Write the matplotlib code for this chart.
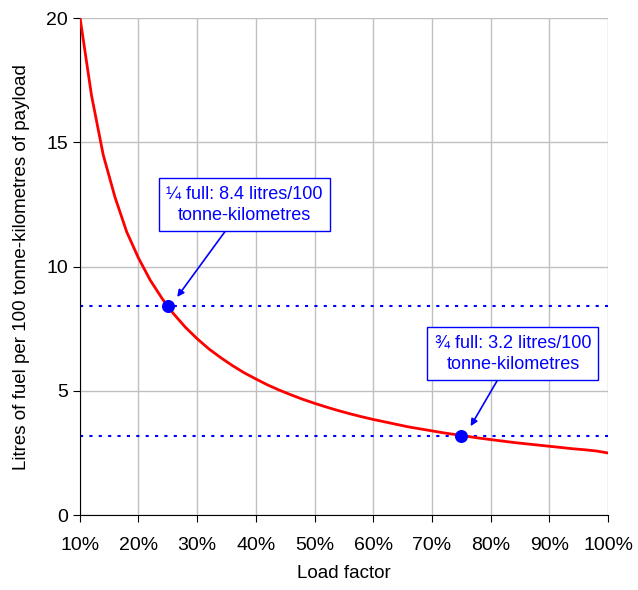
import matplotlib
matplotlib.use("Agg")
import matplotlib.pyplot as plt
from matplotlib.ticker import PercentFormatter

plt.rcParams['font.family'] = ['Liberation Sans', 'DejaVu Sans']

# load factor (%) and litres of fuel per 100 tonne-km
load = [10, 12, 14, 16, 18, 20, 22, 24, 25, 26, 28, 30, 32, 34, 36, 38, 40,
        42, 44, 46, 48, 50, 52, 54, 56, 58, 60, 62, 64, 66, 68, 70, 72, 74,
        75, 76, 78, 80, 82, 84, 86, 88, 90, 92, 94, 96, 98, 100]
fuel = [20.1, 16.9, 14.5, 12.8, 11.4, 10.35, 9.46, 8.73, 8.4, 8.1, 7.56, 7.1,
        6.69, 6.34, 6.02, 5.73, 5.48, 5.24, 5.03, 4.84, 4.66, 4.5, 4.35, 4.21,
        4.08, 3.96, 3.85, 3.75, 3.65, 3.55, 3.47, 3.39, 3.31, 3.24, 3.2, 3.17,
        3.1, 3.04, 2.98, 2.92, 2.87, 2.82, 2.77, 2.72, 2.67, 2.63, 2.58, 2.5]

marks_x = [25, 75]
marks_y = [8.4, 3.2]
marks_text = ["¼ full: 8.4 litres/100\ntonne-kilometres",
              "¾ full: 3.2 litres/100\ntonne-kilometres"]
box_pos = [(38.1, 12.5), (83.8, 6.5)]

fig = plt.figure(figsize=(6.38, 5.9), dpi=100)
ax = fig.add_axes([0.125, 0.127, 0.828, 0.842])

for y in marks_y:
    ax.plot([10, 100], [y, y], color="blue", linestyle=(0, (1.5, 3)), lw=1.5, zorder=2)

ax.plot(load, fuel, color="red", lw=2, zorder=3)
ax.scatter(marks_x, marks_y, color="blue", s=70, zorder=4)

for mx, my, txt, bp in zip(marks_x, marks_y, marks_text, box_pos):
    ax.annotate(txt, xy=(mx + 1.6, my + 0.38), xytext=bp, ha="center", va="center",
                color="blue", fontsize=13, linespacing=1.35,
                bbox=dict(boxstyle="square,pad=0.4", fc="white", ec="blue", lw=1),
                arrowprops=dict(arrowstyle="-|>", color="blue", lw=1.2,
                                shrinkA=0, shrinkB=0, mutation_scale=10),
                zorder=5)

ax.set_xlim(10, 100)
ax.set_ylim(0, 20)
ax.set_xticks(range(10, 101, 10))
ax.set_yticks([0, 5, 10, 15, 20])
ax.xaxis.set_major_formatter(PercentFormatter(decimals=0))
ax.grid(color="#c0c0c0", lw=1)
ax.set_axisbelow(True)
ax.spines['top'].set_visible(False)
ax.spines['right'].set_visible(False)
ax.tick_params(axis="both", labelsize=14, direction="out", length=5)
ax.tick_params(axis="x", pad=11)
ax.set_xlabel("Load factor", fontsize=13.5, labelpad=8)
ax.set_ylabel("Litres of fuel per 100 tonne-kilometres of payload", fontsize=13.5, labelpad=12)

plt.savefig("out.png", dpi=100)
